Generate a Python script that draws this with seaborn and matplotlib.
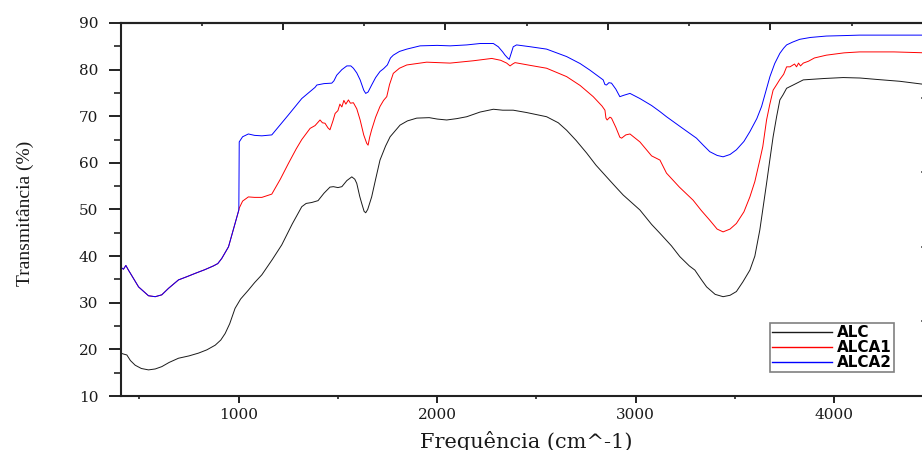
import numpy as np
import pandas as pd
import matplotlib
matplotlib.use("Agg")
import matplotlib.pyplot as plt
import seaborn as sns
from matplotlib.ticker import FixedLocator, NullFormatter

# ---------------- data ----------------
series_names = ["ALC", "ALCA1", "ALCA2"]
series_colors = ["#1a1a1a", "red", "blue"]

alc_x = [406, 420, 437, 455, 479, 510, 546, 580, 613, 650, 697, 750, 798, 840, 882, 910, 932,
         955, 982, 1010, 1049, 1080, 1117, 1170, 1217, 1270, 1318, 1340, 1368, 1400, 1430,
         1460, 1477, 1500, 1520, 1545, 1570, 1585, 1595, 1610, 1620, 1632, 1640, 1650, 1670,
         1690, 1712, 1740, 1763, 1813, 1850, 1897, 1960, 2000, 2048, 2100, 2149, 2216, 2283,
         2330, 2383, 2450, 2551, 2610, 2652, 2700, 2753, 2800, 2853, 2900, 2937, 3021, 3080,
         3122, 3180, 3222, 3270, 3298, 3330, 3357, 3400, 3440, 3475, 3507, 3540, 3575, 3600,
         3625, 3640, 3659, 3675, 3692, 3710, 3726, 3742, 3760, 3793, 3844, 3950, 4045, 4130,
         4213, 4330, 4460]
alc_y = [19.2, 19.0, 18.8, 17.6, 16.6, 15.9, 15.6, 15.8, 16.3, 17.2, 18.1, 18.6, 19.2, 19.9,
         20.9, 22.0, 23.4, 25.5, 28.8, 30.8, 32.7, 34.3, 36.0, 39.3, 42.4, 46.9, 50.6, 51.3,
         51.5, 51.9, 53.5, 54.8, 54.9, 54.7, 54.9, 56.2, 57.0, 56.5, 55.6, 52.8, 51.3, 49.6,
         49.3, 50.0, 52.7, 56.5, 60.6, 63.6, 65.6, 68.1, 69.0, 69.6, 69.7, 69.4, 69.2, 69.5,
         69.9, 70.9, 71.5, 71.3, 71.3, 70.8, 69.9, 68.6, 67.0, 64.8, 62.1, 59.5, 57.0, 54.8,
         53.1, 49.9, 46.8, 44.9, 42.2, 39.9, 37.9, 37.0, 35.0, 33.4, 31.8, 31.3, 31.6, 32.4,
         34.5, 37.0, 40.0, 45.6, 50.0, 55.6, 60.5, 65.6, 70.0, 73.5, 74.6, 76.0, 76.7, 77.8,
         78.1, 78.3, 78.2, 77.9, 77.5, 76.8]

alca1_x = [406, 420, 432, 445, 455, 496, 546, 580, 613, 647, 697, 740, 781, 830, 873, 895, 915,
           949, 982, 1001, 1003, 1020, 1049, 1080, 1117, 1167, 1210, 1251, 1290, 1318, 1360,
           1385, 1410, 1422, 1435, 1450, 1460, 1475, 1486, 1500, 1510, 1520, 1530, 1540, 1553,
           1563, 1578, 1595, 1612, 1630, 1645, 1652, 1660, 1670, 1690, 1712, 1730, 1746, 1760,
           1779, 1810, 1847, 1947, 2065, 2182, 2275, 2320, 2350, 2367, 2380, 2392, 2470, 2551,
           2652, 2720, 2786, 2830, 2845, 2850, 2856, 2870, 2878, 2900, 2920, 2929, 2950, 2971,
           3021, 3080, 3122, 3155, 3220, 3289, 3330, 3373, 3410, 3440, 3475, 3507, 3545, 3575,
           3600, 3625, 3640, 3659, 3675, 3692, 3710, 3726, 3745, 3760, 3777, 3800, 3810, 3820,
           3830, 3844, 3870, 3900, 3960, 4050, 4128, 4300, 4460]
alca1_y = [37.6, 37.2, 38.0, 37.0, 36.3, 33.4, 31.5, 31.3, 31.7, 33.1, 34.9, 35.6, 36.3, 37.1,
           37.9, 38.4, 39.5, 42.0, 47.0, 49.9, 50.3, 51.8, 52.7, 52.6, 52.6, 53.3, 56.5, 59.9,
           63.0, 65.0, 67.4, 68.0, 69.2, 68.6, 68.5, 67.5, 67.1, 69.0, 70.6, 71.2, 72.6, 72.0,
           73.4, 72.6, 73.5, 72.8, 72.9, 71.6, 69.2, 66.0, 64.2, 63.8, 65.5, 67.1, 69.8, 72.1,
           73.4, 74.2, 76.8, 79.2, 80.3, 81.0, 81.6, 81.4, 81.9, 82.4, 82.0, 81.4, 80.8, 81.2,
           81.5, 80.9, 80.3, 78.5, 76.6, 74.2, 72.2, 71.3, 69.6, 69.2, 69.8, 69.6, 67.6, 65.5,
           65.3, 66.0, 66.2, 64.5, 61.5, 60.6, 57.8, 54.8, 52.0, 49.8, 47.7, 45.8, 45.2, 45.8,
           47.0, 49.5, 52.7, 56.0, 60.6, 63.5, 69.2, 72.5, 75.6, 76.8, 77.9, 79.0, 80.6, 80.6,
           81.2, 80.6, 81.4, 80.8, 81.4, 81.8, 82.5, 83.1, 83.6, 83.8, 83.8, 83.6]

alca2_x = [406, 420, 432, 445, 455, 496, 546, 580, 613, 647, 697, 740, 781, 830, 873, 895, 915,
           949, 982, 1001, 1003, 1020, 1049, 1080, 1117, 1167, 1210, 1251, 1318, 1385, 1394,
           1430, 1469, 1480, 1494, 1520, 1545, 1565, 1578, 1595, 1612, 1630, 1640, 1652, 1670,
           1690, 1712, 1730, 1749, 1765, 1779, 1810, 1847, 1914, 2000, 2065, 2149, 2216, 2283,
           2308, 2330, 2342, 2355, 2363, 2375, 2383, 2400, 2470, 2551, 2652, 2720, 2769, 2836,
           2845, 2853, 2865, 2878, 2900, 2920, 2940, 2971, 3021, 3080, 3122, 3155, 3230, 3306,
           3340, 3373, 3410, 3440, 3475, 3507, 3545, 3575, 3610, 3634, 3655, 3676, 3700, 3726,
           3745, 3760, 3790, 3826, 3880, 3960, 4050, 4128, 4300, 4460]
alca2_y = [37.6, 37.2, 38.0, 37.0, 36.3, 33.4, 31.5, 31.3, 31.7, 33.1, 34.9, 35.6, 36.3, 37.1,
           37.9, 38.4, 39.5, 42.0, 47.0, 49.9, 64.5, 65.6, 66.2, 65.9, 65.8, 66.0, 68.2, 70.3,
           73.8, 76.2, 76.7, 77.0, 77.1, 77.6, 78.8, 80.0, 80.8, 80.8, 80.3, 79.3, 77.8, 75.6,
           74.9, 75.2, 76.7, 78.3, 79.6, 80.2, 81.0, 82.5, 83.1, 83.9, 84.4, 85.1, 85.2, 85.1,
           85.3, 85.6, 85.6, 84.9, 83.8, 83.1, 82.5, 82.2, 83.8, 84.9, 85.3, 84.9, 84.4, 82.8,
           81.3, 79.9, 77.8, 76.8, 76.7, 77.2, 77.1, 75.8, 74.2, 74.5, 74.9, 73.8, 72.3, 71.0,
           69.9, 67.6, 65.3, 63.8, 62.4, 61.6, 61.3, 61.8, 62.8, 64.6, 66.7, 69.5, 72.1, 75.3,
           78.5, 81.3, 83.5, 84.6, 85.3, 85.9, 86.5, 86.9, 87.2, 87.3, 87.4, 87.4, 87.4]

y_ticks = [10, 20, 30, 40, 50, 60, 70, 80, 90]
x_ticks = [1000, 2000, 3000, 4000]
x_tick_labels = ["1000", "2000", "3000", "4000"]

# ---------------- long-form table ----------------
frames = []
for name, xs, ys in zip(series_names, [alc_x, alca1_x, alca2_x], [alc_y, alca1_y, alca2_y]):
    frames.append(pd.DataFrame({"freq": xs, "trans": ys, "amostra": name}))
df = pd.concat(frames, ignore_index=True)

# ---------------- figure ----------------
fig = plt.figure(figsize=(9.22, 4.5), dpi=100)
ax = fig.add_axes([120.5 / 922, 1 - 396 / 450, 804.5 / 922, 373 / 450])

sns.lineplot(data=df, x="freq", y="trans", hue="amostra", hue_order=series_names,
             palette=dict(zip(series_names, series_colors)), estimator=None, sort=True,
             linewidth=0.7, ax=ax, legend=True)

ax.set_xlim(405, 4457)
ax.set_ylim(10, 90)

spine_col = "#222222"
for s in ax.spines.values():
    s.set_linewidth(1.5)
    s.set_color(spine_col)

# bottom ticks
ax.xaxis.set_major_locator(FixedLocator(x_ticks))
ax.set_xticklabels(x_tick_labels)
ax.xaxis.set_minor_locator(FixedLocator([500, 1500, 2500, 3500]))
ax.tick_params(axis="x", which="major", direction="out", length=5, width=1.4,
               color=spine_col, pad=3.5, labelsize=11, labelcolor="#1a1a1a")
ax.tick_params(axis="x", which="minor", direction="out", length=2.5, width=1.2, color=spine_col)
# left ticks
ax.yaxis.set_major_locator(FixedLocator(y_ticks))
ax.set_yticklabels([str(v) for v in y_ticks])
ax.yaxis.set_minor_locator(FixedLocator([15, 25, 35, 45, 55, 65, 75, 85]))
ax.tick_params(axis="y", which="major", direction="out", length=9, width=1.4,
               color=spine_col, pad=7, labelsize=11, labelcolor="#1a1a1a")
ax.tick_params(axis="y", which="minor", direction="out", length=4.8, width=1.2, color=spine_col)
for lab in ax.get_xticklabels() + ax.get_yticklabels():
    lab.set_fontfamily("DejaVu Serif")

# top ticks (different layer spacing in the reference)
top = ax.secondary_xaxis("top")
top.xaxis.set_major_locator(FixedLocator([1222, 2040, 2858, 3676]))
top.xaxis.set_minor_locator(FixedLocator([815, 1633, 2451, 3270, 4090]))
top.xaxis.set_major_formatter(NullFormatter())
top.tick_params(which="major", direction="in", length=5, width=1.4, color=spine_col)
top.tick_params(which="minor", direction="in", length=2.5, width=1.2, color=spine_col)
top.spines["top"].set_linewidth(1.5)
top.spines["top"].set_color(spine_col)

# right ticks (spine lies just outside the picture)
right = ax.secondary_yaxis("right")
right.yaxis.set_major_locator(FixedLocator([26, 42, 58, 74]))
right.yaxis.set_major_formatter(NullFormatter())
right.tick_params(which="major", direction="in", length=3.2, width=1.2, color="#555555")

# axis labels
ax.set_xlabel("Frequência (cm^-1)", fontsize=15, family="DejaVu Serif", color="#1a1a1a")
ax.set_ylabel("Transmitância (%)", fontsize=14, family="Liberation Serif", color="#1a1a1a")
ax.xaxis.set_label_coords(0.504, -0.093)
ax.yaxis.set_label_coords(-0.107, 0.49)

# legend
handles, labels = ax.get_legend_handles_labels()
leg = ax.legend(handles, labels, loc="lower right", bbox_to_anchor=(0.9615, 0.065),
                borderaxespad=0, frameon=True, fancybox=False, framealpha=1,
                edgecolor="#808080", handlelength=3.9, handletextpad=0.35,
                labelspacing=0.0, borderpad=0.12,
                prop={"family": "DejaVu Sans", "weight": "bold", "size": 11})
leg.get_frame().set_linewidth(1.2)
for ln in leg.get_lines():
    ln.set_linewidth(1.0)

fig.savefig("out.png", dpi=100)
